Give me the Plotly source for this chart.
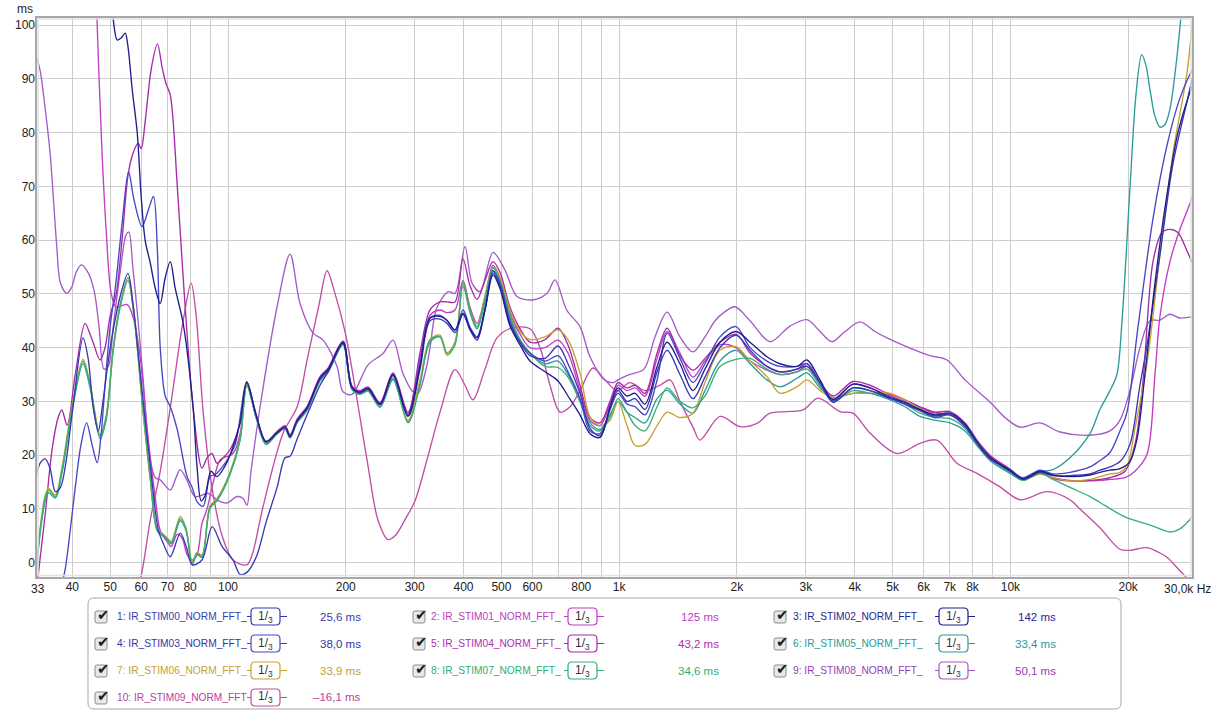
import plotly.graph_objects as go

# ---------------------------------------------------------------------------
# Group delay (ms) versus frequency (Hz) of ten impulse responses, 1/3 oct.
# ---------------------------------------------------------------------------

# Frequency grid shared by the main bundle of responses (111 Hz .. 16 kHz)
MID_HZ = [111.7, 118.0, 125.1, 133.5, 139.9, 144.1, 150.2, 159.3, 171.9, 180.2,
          196.8, 207.5, 217.5, 228.0, 244.7, 264.1, 288.5, 309.6, 328.4, 348.3,
          363.0, 380.5, 398.8, 415.6, 433.1, 453.9, 475.8, 495.8, 525.9, 557.8,
          591.6, 646.2, 697.5, 739.8, 794.0, 842.1, 893.2, 947.3, 993.0, 1047,
          1098, 1164, 1250, 1326, 1430, 1544, 1657, 1810, 1989, 2160,
          2387, 2577, 2848, 3021, 3261, 3520, 3959, 4377, 4837, 5378,
          5874, 6416, 7008, 7654, 8215, 8867, 9975, 10770, 11900, 12850,
          14200, 15970]

# Low-frequency grid shared by the teal, gold and green responses
LOW_HZ = [32.4, 33.1, 34.1, 34.8, 36.2, 37.6, 40.0, 42.6, 44.4, 47.1,
          48.8, 50.9, 53.0, 55.5, 57.6, 60.4, 63.3, 66.0, 68.3, 70.1,
          71.6, 75.5, 78.1, 81.0, 83.3, 85.8, 90.0, 93.7, 101.2, 107.4]

# --- 1: IR_STIM00 ---
S1_LOW_HZ = [32.4, 33.1, 34.1, 35.1, 36.2, 37.3, 38.4, 40.0, 42.6, 43.9,
             45.2, 46.6, 47.9, 50.0, 53.0, 55.5, 57.2, 59.7, 63.3, 66.4,
             68.3, 71.2, 75.5, 78.2, 81.0, 85.8, 91.1, 96.6, 103.0, 107.4]
S1_LOW = [16.3, 18.5, 19.3, 17.5, 13.2, 14.0, 18.0, 28.0, 41.8, 38.0,
          29.0, 24.5, 30.0, 40.0, 49.5, 53.8, 48.0, 35.0, 18.0, 6.0,
          3.6, 1.1, 5.5, 3.0, -0.4, 0.5, 6.7, 3.0, 0.5, -2.2]
S1_MID = [-1.8, 1.0, 7.5, 14.0, 19.5, 19.8, 23.0, 27.5, 33.0, 35.5,
          40.8, 32.6, 31.6, 32.3, 29.4, 34.8, 27.2, 36.0, 45.0, 45.3,
          44.5, 42.8, 46.2, 43.3, 41.4, 47.0, 53.9, 51.5, 44.5, 41.0,
          38.5, 38.0, 40.3, 37.0, 31.5, 25.0, 23.6, 28.5, 32.0, 30.0,
          30.5, 28.5, 35.5, 39.5, 35.0, 30.5, 34.5, 40.0, 42.3, 39.5,
          36.5, 35.5, 36.0, 36.5, 33.5, 30.0, 32.5, 32.0, 30.8, 29.5,
          28.3, 27.3, 27.5, 25.5, 22.3, 19.5, 17.0, 15.5, 16.8, 16.2,
          16.2, 16.5]
S1_HIGH_HZ = [16940, 17970, 19060, 20210, 21440, 22340, 24120, 26040, 28270, 29290, 29810]
S1_HIGH = [17.2, 17.8, 18.8, 22.0, 33.0, 40.4, 57.3, 74.2, 85.7, 90.5, 92.0]

# --- 2: IR_STIM01 ---
S2_LOW_HZ = [43.1, 45.2, 46.3, 47.6, 48.8, 50.3, 51.8, 53.6, 55.3, 57.2,
             59.7, 62.1, 65.2, 67.1, 69.9, 71.6, 74.2, 76.4, 78.6, 81.0,
             83.4, 85.8, 88.4, 91.6, 95.5, 103.0, 107.4]
S2_LOW = [170, 125, 100, 77, 62, 50, 47.5, 47.8, 48, 45.7,
          38, 25, 12, 6, 3.9, 3.0, 5.3, 4.5, 1.5, 0.5,
          1.5, 7.3, 10, 14.8, 19.1, 20.3, 24]
S2_MID = [33.3, 27.3, 22.4, 24.3, 25.3, 23.6, 26.5, 28.9, 34.4, 36.0,
          41.0, 32.7, 31.8, 32.5, 29.6, 35.1, 27.7, 38.0, 46.0, 47.0,
          46.5, 47.0, 52.5, 47.5, 44.5, 49.5, 55.3, 53.0, 46.5, 42.5,
          40.0, 40.0, 41.4, 39.0, 32.0, 26.5, 25.5, 29.5, 33.0, 32.0,
          32.5, 31.0, 38.0, 43.0, 39.0, 34.5, 37.5, 40.5, 40.0, 37.5,
          35.8, 35.0, 35.5, 36.5, 33.0, 30.5, 33.2, 32.5, 31.2, 30.0,
          28.8, 27.8, 27.6, 25.8, 22.6, 19.8, 17.1, 15.4, 16.7, 15.8,
          15.3, 15.2]
S2_HIGH_HZ = [16940, 17970, 19630, 20820, 22340, 23420, 24120, 25580, 27130, 28780, 29290, 29810]
S2_HIGH = [15.3, 15.5, 15.8, 17.0, 20.1, 35.0, 45.8, 56.0, 62.0, 66.8, 68.5, 70.0]

# --- 3: IR_STIM02 ---
S3_LOW_HZ = [47.1, 49.4, 50.9, 52.1, 53.3, 54.6, 55.5, 56.9, 58.6, 60.0,
             61.4, 63.3, 65.2, 67.1, 69.1, 71.2, 73.3, 76.8, 81.4, 83.3,
             85.4, 87.4, 90.5, 93.7, 98.3, 102.4, 107.4]
S3_LOW = [135, 112, 101, 97.2, 97.6, 98.5, 96, 88, 80, 68,
          60, 55.7, 51, 48.2, 53, 56, 51, 44.5, 29, 18,
          11.5, 12.5, 17, 16, 18, 21, 26]
S3_MID = [33.6, 27.5, 22.5, 24.2, 25.2, 23.5, 26.4, 28.8, 34.3, 35.9,
          41.0, 32.6, 31.7, 32.4, 29.5, 35.0, 27.4, 36.5, 45.5, 45.8,
          45.1, 43.3, 46.4, 43.5, 41.8, 47.0, 53.5, 51.0, 44.0, 40.5,
          37.5, 35.5, 33.8, 31.0, 27.5, 24.0, 23.3, 29.0, 32.5, 31.0,
          31.5, 29.5, 36.5, 41.0, 37.0, 32.0, 36.0, 41.0, 43.0, 41.0,
          38.3, 37.0, 36.5, 37.7, 34.0, 30.3, 33.2, 32.5, 31.0, 29.8,
          28.5, 27.5, 27.8, 25.8, 22.5, 19.6, 17.2, 15.6, 17.0, 16.3,
          16.0, 16.3]
S3_HIGH_HZ = [16940, 17970, 19060, 20210, 21070, 22080, 23420, 24840, 26810, 29290, 29810]
S3_HIGH = [16.8, 17.2, 17.5, 18.8, 23.0, 35.0, 52.0, 66.0, 80.0, 89.0, 90.0]

# --- 4: IR_STIM03 ---
S4_LOW_HZ = [37.6, 38.4, 40.7, 42.1, 43.5, 44.9, 46.3, 47.4, 48.5, 50.0,
             51.5, 53.6, 55.7, 57.5, 60.3, 62.5, 64.5, 66.0, 67.1, 69.1,
             71.2, 74.2, 78.6, 81.0, 83.4, 86.4, 90.0, 93.2, 98.3, 104.3]
S4_LOW = [-4, -1, 14, 22, 26, 22, 18.6, 24, 33, 44,
          51, 63, 72.7, 67.5, 62.5, 65.5, 68.1, 58, 40, 31,
          29, 24.7, 16, 14, 11.3, 10.5, 16, 16.5, 18.5, 22]
S4_MID = [33.5, 27.3, 22.4, 24.1, 25.1, 23.4, 26.3, 28.7, 34.2, 35.8,
          40.9, 32.5, 31.6, 32.3, 29.4, 34.9, 27.3, 37.0, 45.5, 46.0,
          45.0, 43.2, 47.0, 43.8, 42.0, 47.3, 54.3, 52.0, 45.0, 41.0,
          39.0, 37.5, 38.5, 35.5, 30.5, 24.5, 24.0, 28.5, 31.5, 29.5,
          29.0, 27.5, 34.0, 42.7, 38.0, 33.5, 37.0, 42.0, 43.9, 40.0,
          37.5, 36.5, 36.5, 37.0, 33.5, 29.8, 32.5, 32.0, 30.8, 29.5,
          28.3, 27.0, 27.5, 25.3, 22.2, 19.3, 17.3, 15.8, 17.2, 16.5,
          16.8, 17.8]
S4_HIGH_HZ = [16940, 17970, 19060, 19860, 21190, 23150, 25140, 27130, 29290, 29810]
S4_HIGH = [19.0, 20.5, 24.5, 28.0, 43.8, 64.0, 77.6, 86.4, 91.8, 92.5]

# --- 5: IR_STIM04 ---
S5_LOW_HZ = [32.4, 34.1, 35.5, 36.8, 37.6, 38.8, 40.7, 43.1, 44.4, 45.2,
             47.1, 48.5, 50.0, 51.8, 53.6, 55.5, 57.1, 58.9, 60.0, 61.4,
             63.7, 66.0, 67.9, 69.5, 71.2, 74.2, 77.3, 81.4, 85.8, 88.4,
             91.0, 93.7, 97.2, 101.2, 107.4]
S5_LOW = [-5, 9, 21, 27, 28.4, 25.6, 35, 44.5, 42.5, 41,
          37.7, 40, 46, 50, 60, 72, 76, 78, 77, 82,
          92, 96.5, 92, 89, 87, 70, 50, 29, 17.6, 19.5,
          20.3, 18.5, 19.5, 21, 26]
S5_MID = [33.6, 27.6, 22.6, 24.4, 25.5, 23.8, 26.7, 29.1, 34.6, 36.2,
          41.2, 32.9, 32.0, 32.7, 29.8, 35.3, 28.0, 39.0, 47.0, 48.5,
          48.5, 48.5, 56.5, 51.5, 49.0, 52.5, 56.0, 54.0, 47.5, 43.5,
          41.0, 41.5, 43.6, 40.5, 33.0, 27.0, 26.0, 30.0, 33.5, 32.5,
          33.0, 31.5, 39.0, 43.6, 38.5, 35.8, 38.0, 41.0, 42.5, 39.0,
          36.5, 35.5, 36.0, 37.0, 33.5, 31.0, 33.7, 33.0, 31.5, 30.3,
          29.0, 28.0, 28.1, 26.0, 22.8, 20.0, 17.4, 15.6, 16.9, 15.7,
          15.2, 15.3]
S5_HIGH_HZ = [16940, 17970, 19630, 20820, 21820, 23150, 24410, 25580, 26810, 28270, 29290, 29810]
S5_HIGH = [15.5, 15.8, 17.0, 22.0, 33.6, 56.0, 61.4, 62.0, 61.4, 58.0, 55.5, 54.5]

# --- 6: IR_STIM05 ---
S6_LOW = [-1.2, 5.5, 11.5, 13.0, 12.0, 16.5, 28.5, 37.0, 32.5, 23.0,
          26.5, 39.5, 47.5, 52.5, 45.5, 29.5, 15.5, 5.8, 4.9, 4.1,
          3.5, 7.8, 6.0, -0.3, 1.5, 1.0, 10.2, 11.5, 16.4, 22.8]
S6_MID = [33.0, 27.0, 22.0, 24.0, 24.9, 23.2, 26.0, 28.3, 33.8, 35.4,
          40.5, 32.2, 31.3, 31.9, 28.9, 34.0, 26.2, 33.5, 41.0, 42.0,
          39.0, 41.0, 51.5, 46.5, 43.5, 48.5, 54.3, 52.0, 45.5, 41.5,
          39.0, 37.0, 37.5, 35.0, 30.0, 26.0, 24.8, 27.5, 30.0, 28.0,
          27.0, 26.0, 30.5, 32.1, 29.5, 27.8, 32.0, 37.5, 39.5, 37.0,
          34.0, 32.7, 34.3, 35.3, 32.5, 30.7, 31.5, 31.5, 30.5, 29.0,
          27.2, 26.5, 26.0, 24.5, 21.8, 19.0, 16.6, 15.4, 16.9, 17.3,
          19.5, 24.0]
S6_HIGH_HZ = [16940, 17970, 18720, 19290, 20210, 20940, 21660, 22210, 22740, 23420,
              24120, 24840, 25580, 26500, 27290, 28110]
S6_HIGH = [28.5, 32.0, 35.0, 45.0, 69.5, 87.0, 94.5, 92.5, 88.0, 83.0,
           81.0, 81.5, 84.4, 92.5, 101.5, 112.0]

# --- 7: IR_STIM06 ---
S7_LOW = [-1.5, 6.5, 12.5, 13.8, 12.6, 17.5, 29.5, 37.8, 33.3, 23.8,
          27.3, 40.0, 47.8, 52.5, 45.5, 29.5, 15.5, 6.2, 5.3, 4.5,
          3.9, 8.6, 6.4, 0.2, 1.9, 1.4, 10.6, 11.9, 16.8, 23.2]
S7_MID = [33.2, 27.2, 22.2, 24.2, 25.1, 23.4, 26.3, 28.6, 34.1, 35.7,
          40.8, 32.5, 31.6, 32.2, 29.3, 34.4, 26.5, 34.0, 41.5, 42.3,
          39.0, 41.0, 52.0, 47.0, 44.0, 49.5, 55.0, 53.0, 47.0, 43.0,
          41.5, 42.0, 43.3, 41.5, 35.3, 27.1, 25.5, 26.5, 30.0, 25.5,
          21.8, 22.0, 25.5, 28.0, 27.0, 27.8, 33.5, 39.5, 40.2, 37.5,
          34.6, 31.5, 32.7, 34.0, 32.0, 30.7, 31.5, 31.5, 31.6, 30.3,
          28.6, 27.5, 27.5, 25.5, 22.5, 19.5, 17.0, 15.4, 16.5, 15.8,
          15.2, 15.5]
S7_HIGH_HZ = [16940, 17970, 19060, 19860, 20820, 22340, 24120, 26040, 28270, 29290, 29810]
S7_HIGH = [16.0, 16.5, 16.8, 18.0, 25.0, 37.0, 57.3, 76.2, 91.0, 101.5, 106.0]

# --- 8: IR_STIM07 ---
S8_LOW = [-1.0, 6.0, 12.0, 13.5, 12.3, 17.0, 29.0, 37.5, 33.0, 23.5,
          27.0, 40.0, 48.0, 53.0, 46.0, 30.0, 16.0, 6.0, 5.2, 4.3,
          3.7, 8.2, 6.2, -0.1, 1.7, 1.2, 10.4, 11.7, 16.6, 23.0]
S8_MID = [33.0, 27.0, 22.0, 24.0, 25.0, 23.2, 26.2, 28.5, 34.0, 35.6,
          40.6, 32.3, 31.4, 32.0, 29.0, 34.2, 26.0, 33.0, 41.4, 42.0,
          38.6, 40.5, 52.2, 47.0, 43.8, 49.0, 54.8, 52.5, 46.0, 41.5,
          39.0, 36.5, 36.3, 34.5, 30.0, 25.5, 24.5, 27.0, 30.5, 28.0,
          25.5, 24.5, 29.0, 32.5, 30.0, 28.8, 31.0, 36.5, 37.8, 38.0,
          36.0, 35.0, 35.5, 36.0, 33.0, 30.2, 32.0, 31.5, 30.8, 29.5,
          27.8, 27.0, 26.8, 25.0, 22.0, 19.3, 16.8, 15.3, 16.6, 15.5,
          14.0, 12.3]
S8_HIGH_HZ = [16940, 19630, 22740, 24120, 25580, 27130, 29290, 29810]
S8_HIGH = [11.2, 8.5, 7.0, 6.3, 5.7, 6.3, 8.7, 9.5]

# --- 9: IR_STIM08 ---
S9_HZ = [32.4, 33.1, 33.8, 35.1, 35.8, 36.5, 37.3, 38.7, 39.9, 40.9,
         42.2, 44.0, 45.5, 46.8, 48.2, 49.4, 50.9, 53.0, 54.9, 55.8,
         57.1, 58.9, 60.7, 63.3, 65.2, 67.1, 71.2, 73.8, 75.5, 78.5,
         82.4, 88.9, 93.7, 99.4, 105.5, 109.2, 111.8, 114.5, 120.8, 133.5,
         144.1, 152.8, 165.0, 175.0, 190.0, 196.8, 207.5, 228.0, 249.0, 264.1,
         280.0, 297.1, 306.0, 320.8, 328.4, 342.2, 366.1, 380.5, 403.5, 420.5,
         440.8, 475.8, 510.6, 548, 605, 654, 685.3, 734, 794, 842.1,
         917, 966, 993, 1066, 1157, 1235, 1326, 1430, 1544, 1657,
         1758, 1858, 1977, 2160, 2430, 2733, 3021, 3261, 3500, 3778,
         4126, 4507, 4837, 5538, 6230, 6886, 7654, 8867, 9685, 10580,
         11900, 13390, 15970, 17970, 19060, 20210, 21440, 22740, 24120, 25580,
         27130, 29290, 29810]
S9 = [94, 91.5, 86.7, 76.1, 67.5, 58.8, 52, 50.1, 51.3, 54,
      55.4, 53.8, 50.5, 44, 36, 36.5, 44, 54, 61, 61.5,
      55, 45, 34, 19, 15.8, 15.4, 13.5, 16, 17.3, 15.4,
      12.3, 12.9, 11.7, 11.1, 12.3, 12, 10.7, 17, 29, 47.6,
      57.4, 48.2, 42.7, 41.4, 36.5, 31.8, 31.3, 36.8, 38.9, 41.4,
      35.2, 31.8, 31.5, 36, 40, 47.5, 50.4, 50.1, 58.8, 52,
      50.4, 57.7, 54.4, 49.5, 48.9, 50.1, 52.6, 47, 43.9, 38.3,
      34, 33.5, 34, 35, 36, 42, 46.6, 42, 39.2, 42,
      45, 46.6, 47.6, 45, 41.1, 44, 45.2, 43, 41.1, 43,
      44.8, 43, 41.8, 39.9, 38.5, 37.7, 34, 29.9, 27, 25.2,
      26, 24.3, 23.7, 24.5, 26.5, 32, 40, 45, 45.1, 46.2,
      45.5, 45.8, 46]

# --- 10: IR_STIM09 ---
S10_HZ = [56.2, 59.7, 63.3, 67.1, 71.6, 76.8, 80.5, 82.9, 86.4, 91.0,
          96.6, 103.0, 111.7, 115.3, 122.9, 138.3, 150.2, 159.3, 170.9, 179.1,
          187.8, 199.1, 207.5, 217.5, 228.0, 241.6, 256.5, 267.3, 283.5, 300.6,
          322.5, 348.3, 380.5, 403.5, 423, 453.9, 487, 535, 591.6, 627.4,
          665.5, 705.8, 748.6, 794, 857, 919.8, 987, 1066, 1164, 1271,
          1349, 1430, 1544, 1609, 1810, 2036, 2251, 2430, 2951, 3222,
          3668, 3959, 4377, 5130, 5874, 6492, 7303, 8215, 9405, 10580,
          12406, 14200, 15060, 16940, 19060, 20210, 22340, 24120, 25140, 27130,
          29290]
S10 = [-8, -3, 8, 17, 30, 45, 52, 46, 28, 14,
       5, 0.5, -0.4, 1.5, 10.4, 24.1, 29, 37.7, 48, 54.3,
       50, 43, 36, 27, 18, 8, 4.3, 5, 8, 11.5,
       19.1, 28, 35.9, 33, 30.3, 36, 41.8, 43.7, 43.5, 40,
       33, 28, 29, 32, 36.2, 34, 32, 33.5, 32, 33,
       34, 30, 25.2, 22.8, 27.2, 25.3, 25.9, 27.8, 28.4, 30.6,
       28.1, 27.8, 24.1, 20.3, 22.2, 22.8, 18.5, 16.6, 14.1, 11.7,
       13.2, 11.7, 10, 6.5, 2.5, 2.3, 2.8, 1.8, 1.0, -1.5,
       -4]

NAMES = ["1: IR_STIM00_NORM_FFT_", "2: IR_STIM01_NORM_FFT_", "3: IR_STIM02_NORM_FFT_",
         "4: IR_STIM03_NORM_FFT_", "5: IR_STIM04_NORM_FFT_", "6: IR_STIM05_NORM_FFT_",
         "7: IR_STIM06_NORM_FFT_", "8: IR_STIM07_NORM_FFT_", "9: IR_STIM08_NORM_FFT_",
         "10: IR_STIM09_NORM_FFT"]
DELAYS = ["25,6 ms", "125 ms", "142 ms", "38,0 ms", "43,2 ms", "33,4 ms",
          "33,9 ms", "34,6 ms", "50,1 ms", "\u201316,1 ms"]
LINE_COLORS = ["#3838b4", "#c23dc6", "#1e1e8c", "#4646c6", "#a52aa8",
               "#2c9c9a", "#c9a030", "#36b074", "#a45bc6", "#c04ea6"]
TEXT_COLORS = ["#3a3ab0", "#c03cc0", "#262690", "#3434aa", "#b02cb0",
               "#2a9a96", "#c4a036", "#30ae72", "#9440b4", "#b8409e"]

GRID_HZ = [40, 50, 60, 70, 80, 90, 100, 200, 300, 400, 500, 600, 700, 800, 900,
           1000, 2000, 3000, 4000, 5000, 6000, 7000, 8000, 9000, 10000, 20000]
GRID_TXT = ["40", "50", "60", "70", "80", "", "100", "200", "300", "400", "500", "600", "",
            "800", "", "1k", "2k", "3k", "4k", "5k", "6k", "7k", "8k", "", "10k", "20k"]
MS_TICKS = list(range(0, 101, 10))

# assemble each response from its pieces
series = [
    (S1_LOW_HZ + MID_HZ + S1_HIGH_HZ, S1_LOW + S1_MID + S1_HIGH),
    (S2_LOW_HZ + MID_HZ + S2_HIGH_HZ, S2_LOW + S2_MID + S2_HIGH),
    (S3_LOW_HZ + MID_HZ + S3_HIGH_HZ, S3_LOW + S3_MID + S3_HIGH),
    (S4_LOW_HZ + MID_HZ + S4_HIGH_HZ, S4_LOW + S4_MID + S4_HIGH),
    (S5_LOW_HZ + MID_HZ + S5_HIGH_HZ, S5_LOW + S5_MID + S5_HIGH),
    (LOW_HZ + MID_HZ + S6_HIGH_HZ, S6_LOW + S6_MID + S6_HIGH),
    (LOW_HZ + MID_HZ + S7_HIGH_HZ, S7_LOW + S7_MID + S7_HIGH),
    (LOW_HZ + MID_HZ + S8_HIGH_HZ, S8_LOW + S8_MID + S8_HIGH),
    (S9_HZ, S9),
    (S10_HZ, S10),
]
for k, (fx, vy) in enumerate(series):
    assert len(fx) == len(vy), (k + 1, len(fx), len(vy))

# ---------------------------------------------------------------------------
W, H = 1227, 711
ML, MR, MT, MB = 36, 34, 17, 133
PW, PH = W - ML - MR, H - MT - MB


def px(x):
    return (x - ML) / PW


def py(y):
    return 1 - (y - MT) / PH


def rrect(x0, y0, x1, y1, r):
    pts = [("M", x0 + r, y0), ("L", x1 - r, y0), ("Q", x1, y0, x1, y0 + r),
           ("L", x1, y1 - r), ("Q", x1, y1, x1 - r, y1), ("L", x0 + r, y1),
           ("Q", x0, y1, x0, y1 - r), ("L", x0, y0 + r), ("Q", x0, y0, x0 + r, y0)]
    out = []
    for p in pts:
        cmd, vals = p[0], p[1:]
        coords = []
        for i in range(0, len(vals), 2):
            coords.append("%.5f,%.5f" % (px(vals[i]), py(vals[i + 1])))
        out.append(cmd + " ".join(coords))
    return " ".join(out) + " Z"


def label(text, x, y, size, color, family, anchor="center"):
    return dict(text=text, x=px(x), y=py(y), xref="paper", yref="paper",
                xanchor=anchor, yanchor="middle", showarrow=False, borderpad=0,
                font=dict(family=family, size=size, color=color))


TICK_FONT = "Liberation Sans, Arial, sans-serif"

fig = go.Figure()
draw_order = [9, 8, 1, 4, 5, 6, 7, 3, 0, 2]
for k in draw_order:
    fx, vy = series[k]
    fig.add_trace(go.Scatter(
        x=fx, y=vy, mode="lines", name=NAMES[k],
        line=dict(color=LINE_COLORS[k], width=1.35, shape="spline", smoothing=0.9),
        hoverinfo="skip", showlegend=False))

shapes = []
annotations = []

# plot frame
shapes.append(dict(type="rect", xref="paper", yref="paper", x0=px(38), y0=py(575.5),
                   x1=px(1191), y1=py(19), line=dict(color="#e2e2e2", width=1.5), layer="above"))
shapes.append(dict(type="rect", xref="paper", yref="paper", x0=0, y0=0, x1=1, y1=1,
                   line=dict(color="#a8a8a8", width=2), layer="above"))

annotations.append(label("ms", 25, 9, 12, "#222", TICK_FONT))
annotations.append(label("33", 37.5, 589, 12, "#222", TICK_FONT))
annotations.append(label("30,0k Hz", 1212, 589, 12, "#222", TICK_FONT, anchor="right"))

# legend panel
shapes.append(dict(type="path", xref="paper", yref="paper",
                   path=rrect(88, 598, 1121, 709, 6),
                   line=dict(color="#a9a9a9", width=1), fillcolor="white"))

ROW_Y = [616, 643, 670, 697]
COL_CHECK = [101, 419, 780]
COL_TEXT = [116, 430, 792]
COL_BOX = [251, 568, 939]
COL_VAL = [362, 720, 1057]

for i in range(len(NAMES)):
    r, c = divmod(i, 3)
    cy = ROW_Y[r]
    cx = COL_CHECK[c]
    shapes.append(dict(type="path", xref="paper", yref="paper",
                       path=rrect(cx - 6, cy - 5, cx + 6, cy + 7, 2),
                       line=dict(color="#8c8c8c", width=1), fillcolor="#e8e8e8"))
    annotations.append(label("\u2714", cx + 2, cy - 1, 15, "#1e1e1e", "DejaVu Sans"))
    annotations.append(label(NAMES[i], COL_TEXT[c], cy + 0.5, 10.2, TEXT_COLORS[i],
                             TICK_FONT, anchor="left"))
    bx = COL_BOX[c]
    shapes.append(dict(type="line", xref="paper", yref="paper", x0=px(bx - 4), x1=px(bx),
                       y0=py(cy + 0.5), y1=py(cy + 0.5),
                       line=dict(color=LINE_COLORS[i], width=1)))
    shapes.append(dict(type="line", xref="paper", yref="paper", x0=px(bx + 29), x1=px(bx + 36),
                       y0=py(cy + 0.5), y1=py(cy + 0.5),
                       line=dict(color=LINE_COLORS[i], width=1)))
    shapes.append(dict(type="path", xref="paper", yref="paper",
                       path=rrect(bx, cy - 8, bx + 29, cy + 9, 4),
                       line=dict(color=LINE_COLORS[i], width=1.2), fillcolor="white"))
    annotations.append(label("1/<sub>3</sub>", bx + 14.5, cy + 0.5, 12, "#333", TICK_FONT))
    annotations.append(label(DELAYS[i], COL_VAL[c], cy + 0.5, 11.5, TEXT_COLORS[i],
                             TICK_FONT, anchor="right"))

fig.update_layout(
    width=W, height=H,
    margin=dict(l=ML, r=MR, t=MT, b=MB, pad=0),
    paper_bgcolor="white", plot_bgcolor="white",
    showlegend=False, hovermode=False,
    shapes=shapes, annotations=annotations,
    xaxis=dict(type="log", range=[1.5092, 4.4668], tickvals=GRID_HZ, ticktext=GRID_TXT,
               tickangle=0, showgrid=True, gridcolor="#cdcdcd", gridwidth=1.4,
               zeroline=False, showline=False, ticks="",
               tickfont=dict(family=TICK_FONT, size=12, color="#222")),
    yaxis=dict(range=[-2.85, 101.49], tickvals=MS_TICKS, showgrid=True,
               gridcolor="#cdcdcd", gridwidth=1.4, zeroline=False, showline=False,
               ticks="", tickfont=dict(family=TICK_FONT, size=12, color="#222")),
)

fig.write_html("out.html")
